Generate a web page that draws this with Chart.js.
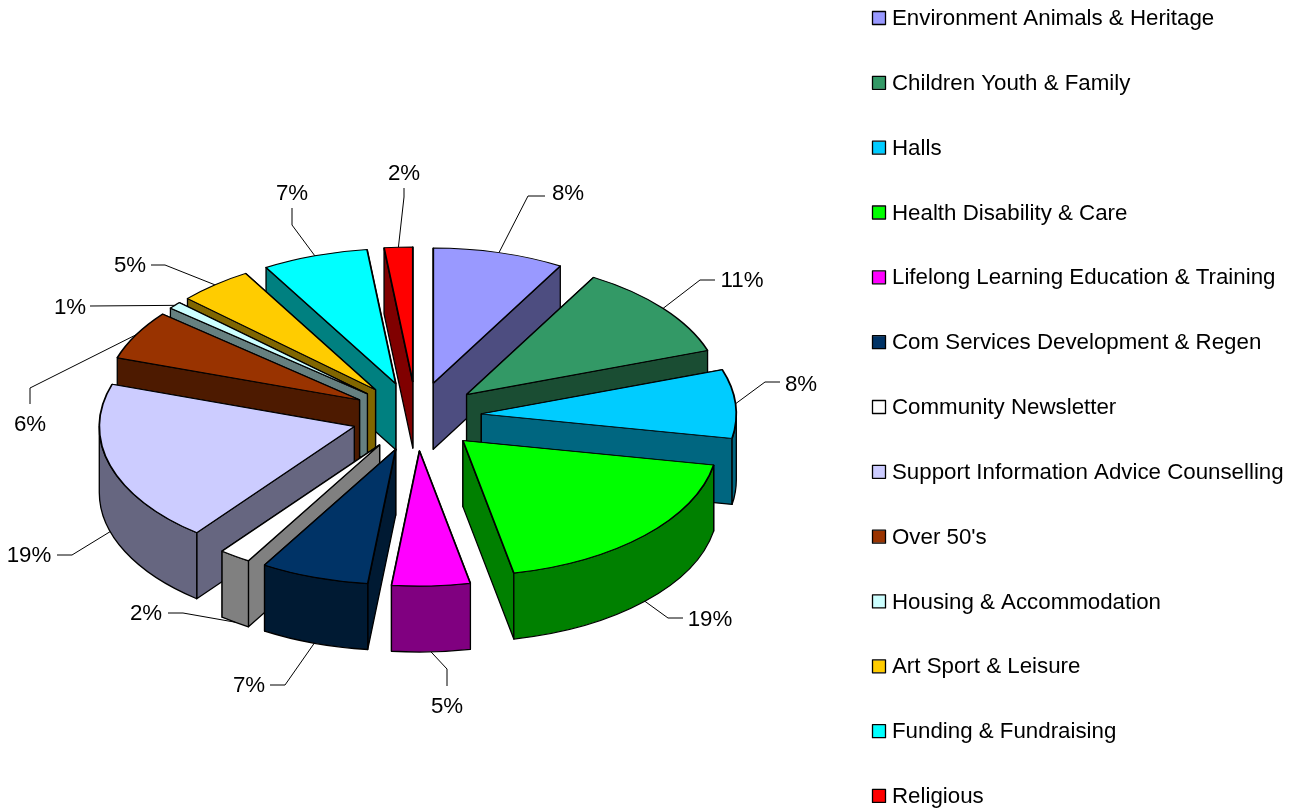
<!DOCTYPE html>
<html>
<head>
<meta charset="utf-8">
<style>
  html, body { margin: 0; background: #fff; overflow: hidden; }
  canvas { display: block; }
</style>
<script src="https://cdn.jsdelivr.net/npm/chart.js@4/dist/chart.umd.min.js"></script>
</head>
<body>
<canvas id="myChart" width="1291" height="809"></canvas>
<script>
const ctx = document.getElementById('myChart')

const categories = [
  'Environment Animals & Heritage',
  'Children Youth & Family',
  'Halls',
  'Health Disability & Care',
  'Lifelong Learning Education & Training',
  'Com Services Development & Regen',
  'Community Newsletter',
  'Support Information Advice Counselling',
  "Over 50's",
  'Housing & Accommodation',
  'Art Sport & Leisure',
  'Funding & Fundraising',
  'Religious'
]
const shares = [8.3, 11.4, 8.2, 18.9, 4.95, 6.85, 2, 19.45, 5.9, 0.85, 4.7, 6.7, 1.8]
const percentLabels = ['8%', '11%', '8%', '19%', '5%', '7%', '2%', '19%', '6%', '1%', '5%', '7%', '2%']
const topColors = ['#9999FF', '#339966', '#00CCFF', '#00FF00', '#FF00FF', '#003366', '#FFFFFF', '#CCCCFF', '#993300', '#CCFFFF', '#FFCC00', '#00FFFF', '#FF0000']
const wallColors = ['#4D4D80', '#1A4D33', '#006680', '#008000', '#800080', '#001A33', '#808080', '#666680', '#4D1A00', '#668080', '#806600', '#008080', '#800000']

// where the leader lines bend and where the percent text sits
const elbows = [
  [[528, 196], [545, 196]], [[700, 280], [715, 280]], [[765, 382], [780, 382]], [[668, 618], [683, 618]],
  [[447, 669], [447, 686]], [[285, 685], [270, 685]], [[183, 613], [168, 613]], [[72, 555], [57, 555]],
  [[30, 388], [30, 404]], [[90, 306], [90, 306]], [[165, 265], [151, 265]], [[292, 225], [292, 208]],
  [[404, 197], [404, 188]]
]
const labelSpots = [
  [568, 194], [742, 281], [801, 385], [710, 620], [447, 707], [249, 686], [146, 614], [29, 556],
  [30, 425], [70, 308], [130, 266], [292, 194], [404, 174]
]

const squash = 0.53
const explode = 65
const depth = 66
const font = '22.3px "Liberation Sans", Arial, sans-serif'

function sliceGeometry(arc) {
  const mid = (arc.startAngle + arc.endAngle) / 2
  const ox = arc.x + Math.cos(mid) * explode
  const oy = arc.y + Math.sin(mid) * explode * squash
  const at = (a, drop = 0) => [ox + arc.outerRadius * Math.cos(a), oy + arc.outerRadius * Math.sin(a) * squash + drop]
  return {mid, ox, oy, at}
}

function drawWalls(c, arc, color) {
  const {ox, oy, at} = sliceGeometry(arc)
  c.fillStyle = color
  c.strokeStyle = '#000'
  c.lineWidth = 1.3
  c.lineJoin = 'round'

  // the wall lower on screen is in front, so it goes last
  const cuts = [arc.startAngle, arc.endAngle].sort((a, b) => at(a)[1] - at(b)[1])
  for (const a of cuts) {
    const [px, py] = at(a)
    c.beginPath()
    c.moveTo(ox, oy)
    c.lineTo(px, py)
    c.lineTo(px, py + depth)
    c.lineTo(ox, oy + depth)
    c.closePath()
    c.fill()
    c.stroke()
  }

  // outer wall only shows on the front half of the ellipse
  const from = Math.max(arc.startAngle, 0)
  const to = Math.min(arc.endAngle, Math.PI)
  if (to > from) {
    c.beginPath()
    c.ellipse(ox, oy, arc.outerRadius, arc.outerRadius * squash, 0, from, to)
    c.ellipse(ox, oy + depth, arc.outerRadius, arc.outerRadius * squash, 0, to, from, true)
    c.closePath()
    c.fill()
    c.stroke()
  }
}

const pie3d = {
  id: 'pie3d',
  beforeDatasetsDraw(chart) {
    const c = chart.ctx
    const arcs = chart.getDatasetMeta(0).data
    const order = arcs.map((arc, i) => i)
    order.sort((a, b) => sliceGeometry(arcs[a]).oy - sliceGeometry(arcs[b]).oy)

    order.forEach(i => {
      const arc = arcs[i]
      const {ox, oy} = sliceGeometry(arc)
      drawWalls(c, arc, wallColors[i])
      c.save()
      c.translate(ox, oy)
      c.scale(1, squash)
      c.translate(-arc.x, -arc.y)
      arc.draw(c)
      c.restore()
    })
    return false
  },
  afterDraw(chart) {
    const c = chart.ctx
    const arcs = chart.getDatasetMeta(0).data
    c.save()
    c.font = font
    c.textBaseline = 'middle'

    // leader lines and percent labels
    arcs.forEach((arc, i) => {
      const {mid, at} = sliceGeometry(arc)
      const start = at(mid, Math.sin(mid) > 0 ? depth : 0)
      c.strokeStyle = '#000'
      c.lineWidth = 1
      c.beginPath()
      c.moveTo(start[0], start[1])
      elbows[i].forEach(p => c.lineTo(p[0], p[1]))
      c.stroke()
      c.fillStyle = '#000'
      c.textAlign = 'center'
      c.fillText(percentLabels[i], labelSpots[i][0], labelSpots[i][1])
    })

    // legend rows are wider apart than the built in legend can fit in this height
    categories.forEach((name, i) => {
      const y = 18 + i * 64.83
      c.fillStyle = topColors[i]
      c.strokeStyle = '#000'
      c.lineWidth = 1.3
      c.fillRect(873, y - 6, 12, 12)
      c.strokeRect(872.5, y - 6.5, 13, 13)
      c.fillStyle = '#000'
      c.textAlign = 'left'
      c.fillText(name, 892, y + 1)
    })
    c.restore()
  }
}

new Chart(ctx, {
  type: 'pie',
  data: {
    labels: categories,
    datasets: [
      {
        data: shares,
        backgroundColor: topColors,
        borderColor: '#000',
        borderWidth: 1.8
      }
    ]
  },
  plugins: [pie3d],
  options: {
    responsive: false,
    animation: false,
    radius: 255,
    layout: {
      padding: {left: 0, right: 458, top: 24, bottom: 0}
    },
    plugins: {
      legend: {display: false},
      tooltip: {enabled: false}
    }
  }
})
</script>
</body>
</html>
